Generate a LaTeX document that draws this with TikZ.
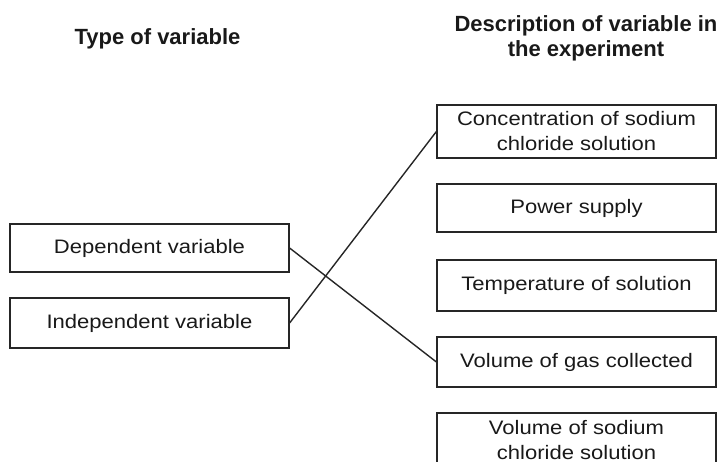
\documentclass[tikz,border=0pt]{standalone}
\usepackage{fontspec}
\setmainfont{Liberation Sans}
\newfontfamily\bodyfont[FakeStretch=1.13]{Liberation Sans}
\newfontfamily\headfont{Liberation Sans}
\begin{document}
\begin{tikzpicture}[x=1pt,y=-1pt,
  box/.style={draw=black!85, line width=1.2pt, minimum width=279pt, inner sep=0pt,
     align=center, font=\bodyfont\fontsize{19.5}{25}\selectfont, text=black!90},
  head/.style={align=center, font=\headfont\bfseries\fontsize{22}{25}\selectfont, text=black!90, inner sep=0pt},
  link/.style={draw=black!85, line width=1.4pt}]
\useasboundingbox (0,0) rectangle (722,462);
\clip (0,0) rectangle (722,462);
\node[head, anchor=base] (h1) at (157.5,45) {Type of variable};
\node[head, anchor=base] (h2) at (586,57) {Description of variable in\\the experiment};
\node[box, minimum height=48pt] (dep) at (149.5,248) {Dependent variable};
\node[box, minimum height=50pt] (ind) at (149.5,323) {Independent variable};
\node[box, minimum height=53pt] (conc) at (576.5,131.5) {Concentration of sodium\\chloride solution};
\node[box, minimum height=48pt] (pow) at (576.5,208) {Power supply};
\node[box, minimum height=51pt] (temp) at (576.5,285.5) {Temperature of solution};
\node[box, minimum height=50pt] (gas) at (576.5,362) {Volume of gas collected};
\node[box, minimum height=54pt] (vol) at (576.5,440) {};
\node[font=\bodyfont\fontsize{19.5}{25}\selectfont, text=black!90, align=center, anchor=base] (voltext) at (576.5,459) {Volume of sodium\\chloride solution};
\draw[link] (dep.east) -- (gas.west);
\draw[link] (ind.east) -- (conc.west);
\end{tikzpicture}
\end{document}
